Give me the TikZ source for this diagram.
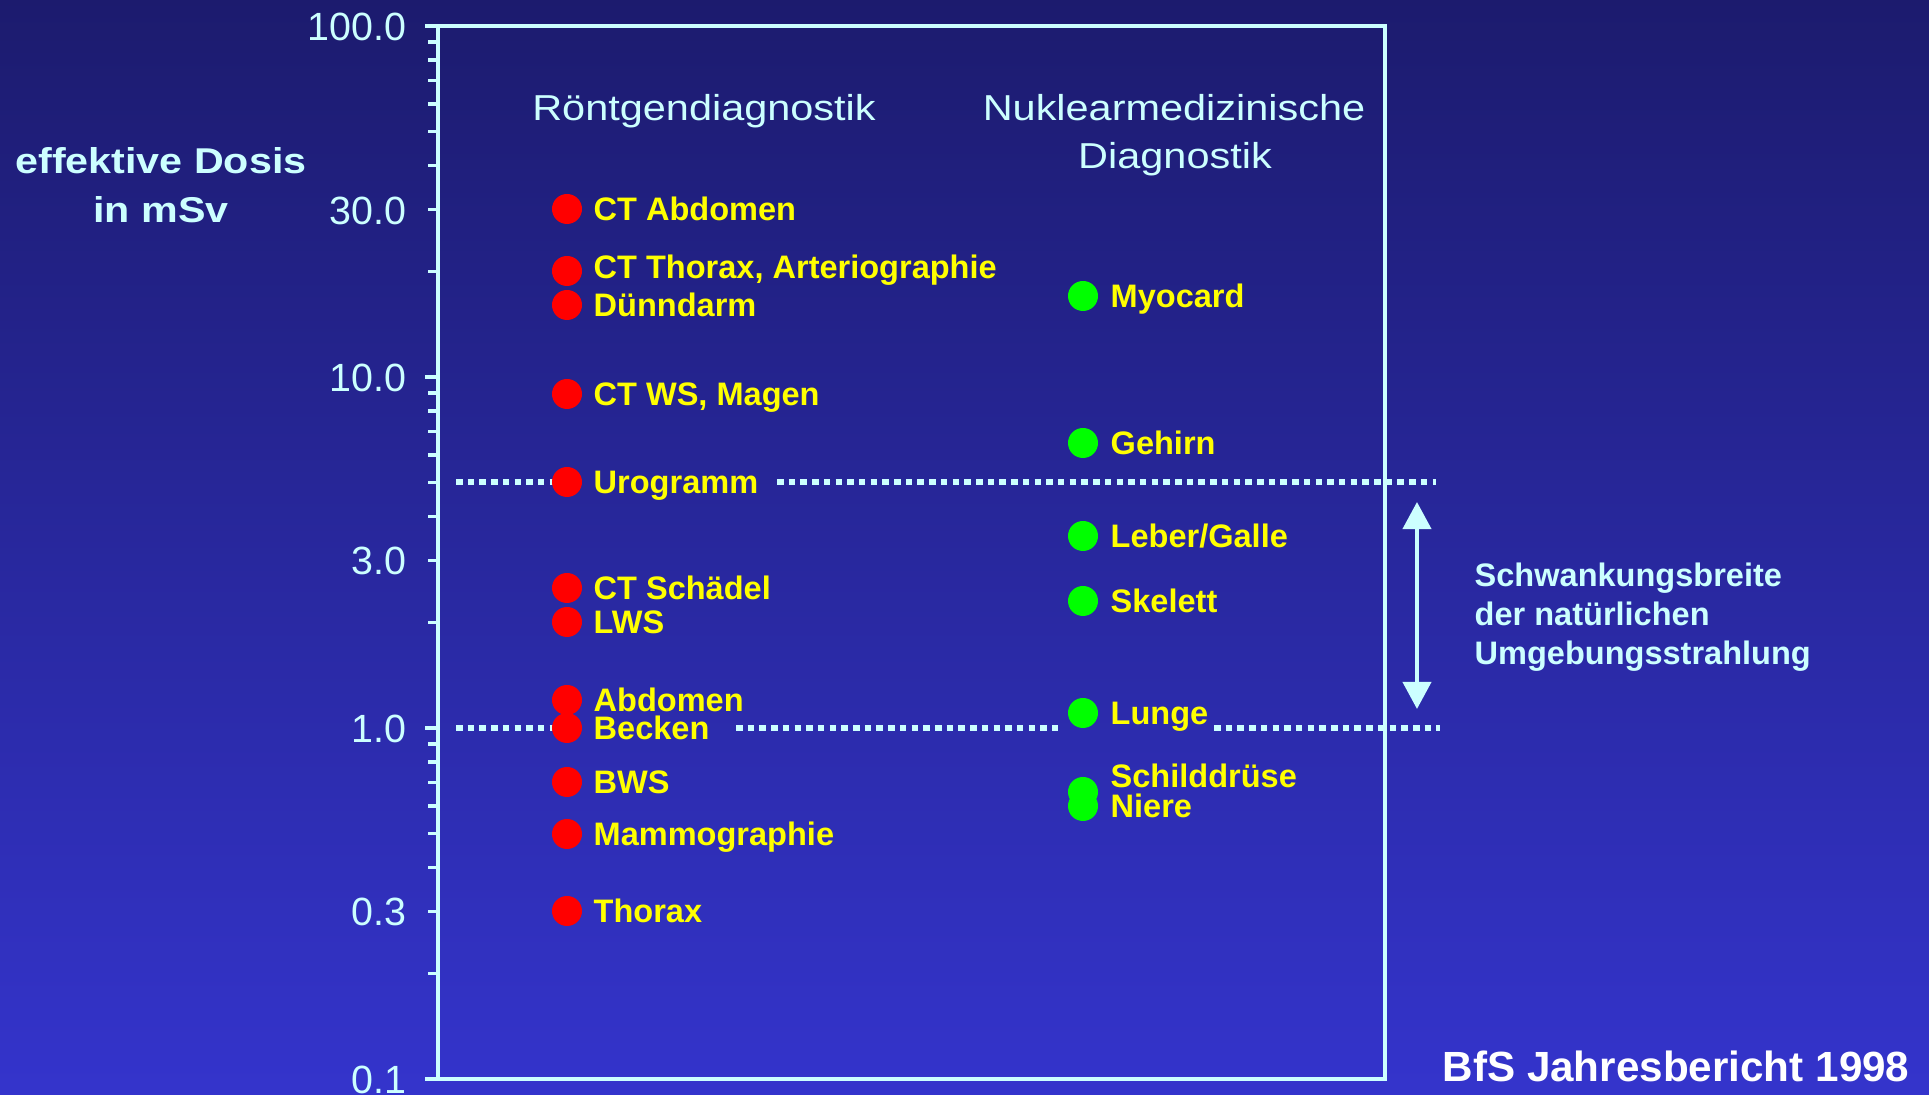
\documentclass[tikz,border=0pt]{standalone}
\usepackage{fontspec}
\setmainfont{Liberation Sans}
\newfontfamily\widesans[FakeStretch=1.15]{Liberation Sans}
\usetikzlibrary{arrows.meta}

\definecolor{bgtop}{HTML}{1C1B6E}
\definecolor{bgbot}{HTML}{3434CC}
\definecolor{paleCyan}{HTML}{CCFFFF}
\definecolor{dotRed}{HTML}{FF0000}
\definecolor{dotGreen}{HTML}{00FF00}
\definecolor{labYellow}{HTML}{FFFF00}

\tikzset{
  axisline/.style={paleCyan, line width=0.035cm},
  dotline/.style={paleCyan, line width=0.055cm, dash pattern=on 0.065cm off 0.052cm},
  ticklab/.style={paleCyan, anchor=east, inner sep=0pt, text height=8pt, text depth=0pt,
    font=\fontsize{11.2}{13}\selectfont},
  headlab/.style={paleCyan, anchor=base, inner sep=0pt, font=\widesans\fontsize{10.25}{12}\selectfont},
  dosislab/.style={paleCyan, anchor=base, inner sep=0pt, font=\widesans\bfseries\fontsize{10.2}{12}\selectfont},
  xray/.style={circle, fill=dotRed, inner sep=0pt, minimum size=0.3cm},
  nuc/.style={circle, fill=dotGreen, inner sep=0pt, minimum size=0.3cm},
  exam/.style={labYellow, anchor=west, inner sep=0pt, text height=6.6pt, text depth=0pt,
    font=\bfseries\fontsize{9.25}{11}\selectfont},
  notelab/.style={paleCyan, anchor=base west, inner sep=0pt, font=\bfseries\fontsize{9.25}{11}\selectfont},
}

\begin{document}
\begin{tikzpicture}[x=0.01cm, y=-0.01cm]
\useasboundingbox (0,0) rectangle (1929,1095);
\shade[top color=bgtop, bottom color=bgbot] (0,0) rectangle (1929,1095);

% frame and log axis
\draw[axisline] (425,26) -- (1385,26) -- (1385,1079) -- (425,1079);
\draw[axisline] (438,26) -- (438,1079);
\foreach \e in {0,1,2}
  \draw[axisline] (425,{728-351*\e}) -- (438,{728-351*\e});
\foreach \e in {-1,0,1}
  \foreach \m in {2,...,9}
    \draw[axisline] (428,{728-351*(\e+log10(\m))}) -- (438,{728-351*(\e+log10(\m))});

\node[ticklab] (t100) at (407,26) {100.0};
\node[ticklab] (t30) at (407,210) {30.0};
\node[ticklab] (t10) at (407,377) {10.0};
\node[ticklab] (t3) at (407,560) {3.0};
\node[ticklab] (t1) at (407,728) {1.0};
\node[ticklab] (t03) at (407,911) {0.3};
\node[ticklab] (t01) at (407,1079) {0.1};

\node[dosislab] (dosis) at (161,174) {effektive Dosis};
\node[dosislab] (unit) at (161,223) {in mSv};

\node[headlab] (roe) at (704,121) {Röntgendiagnostik};
\node[headlab] (nuk) at (1174,121) {Nuklearmedizinische};
\node[headlab] (nuk2) at (1175,169) {Diagnostik};

% natural background band
\draw[dotline] (456,482) -- (560,482);
\draw[dotline] (777,482) -- (1436,482);
\draw[dotline] (456,728) -- (560,728);
\draw[dotline] (736,728) -- (1058,728);
\draw[dotline] (1214,728) -- (1440,728);

% Roentgen
\node[xray] (ctabd) at (567,209) {};
\node[exam] (ctabdT) at (593,209) {CT Abdomen};
\node[xray] (ctthx) at (567,271) {};
\node[exam] (ctthxT) at (593,267) {CT Thorax, Arteriographie};
\node[xray] (duenn) at (567,305) {};
\node[exam] (duennT) at (593,305) {Dünndarm};
\node[xray] (ctws) at (567,394) {};
\node[exam] (ctwsT) at (593,394) {CT WS, Magen};
\node[xray] (uro) at (567,482) {};
\node[exam] (uroT) at (593,482) {Urogramm};
\node[xray] (ctsch) at (567,588) {};
\node[exam] (ctschT) at (593,588) {CT Schädel};
\node[xray] (lws) at (567,622) {};
\node[exam] (lwsT) at (593,622) {LWS};
\node[xray] (abd) at (567,700) {};
\node[exam] (abdT) at (593,700) {Abdomen};
\node[xray] (beck) at (567,728) {};
\node[exam] (beckT) at (593,728) {Becken};
\node[xray] (bws) at (567,782) {};
\node[exam] (bwsT) at (593,782) {BWS};
\node[xray] (mammo) at (567,834) {};
\node[exam] (mammoT) at (593,834) {Mammographie};
\node[xray] (thx) at (567,911) {};
\node[exam] (thxT) at (593,911) {Thorax};

% Nuklearmedizin
\node[nuc] (myo) at (1083,296) {};
\node[exam] (myoT) at (1110,296) {Myocard};
\node[nuc] (geh) at (1083,443) {};
\node[exam] (gehT) at (1110,443) {Gehirn};
\node[nuc] (leb) at (1083,536) {};
\node[exam] (lebT) at (1110,536) {Leber/Galle};
\node[nuc] (skel) at (1083,601) {};
\node[exam] (skelT) at (1110,601) {Skelett};
\node[nuc] (lung) at (1083,713) {};
\node[exam] (lungT) at (1110,713) {Lunge};
\node[nuc] (schild) at (1083,792) {};
\node[exam] (schildT) at (1110,776) {Schilddrüse};
\node[nuc] (nier) at (1083,806) {};
\node[exam] (nierT) at (1110,806) {Niere};

% range arrow
\coordinate (bandtop) at (1417,502);
\coordinate (bandbot) at (1417,709);
\draw[paleCyan, line width=0.04cm, {Triangle[width=0.28cm,length=0.27cm]}-{Triangle[width=0.28cm,length=0.27cm]}] (bandtop) -- (bandbot);
\node[notelab] (band1) at (1474,587) {Schwankungsbreite};
\node[notelab] (band2) at (1474,626) {der natürlichen};
\node[notelab] (band3) at (1474,665) {Umgebungsstrahlung};

\node[white, anchor=base west, inner sep=0pt, font=\bfseries\fontsize{12}{14}\selectfont] (src) at (1442,1082) {BfS Jahresbericht 1998};
\end{tikzpicture}
\end{document}
